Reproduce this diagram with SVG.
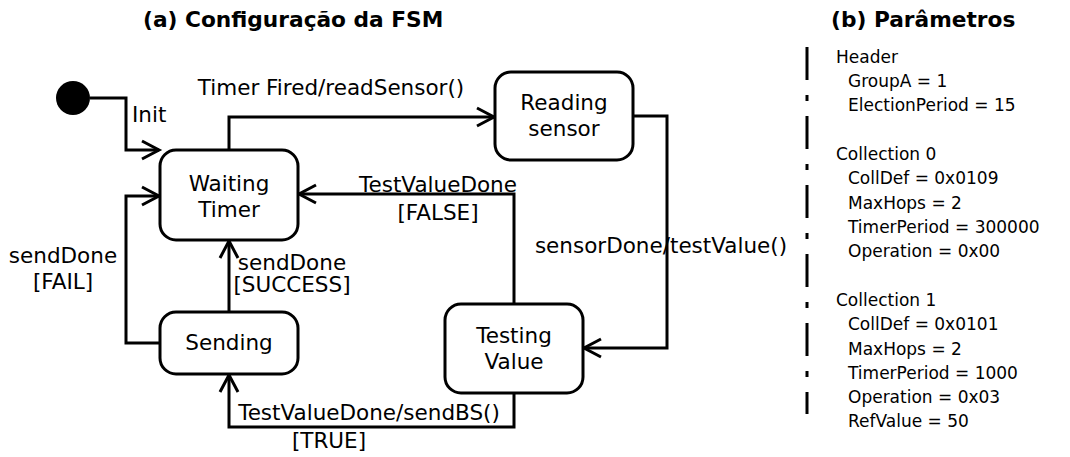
<svg xmlns="http://www.w3.org/2000/svg" width="1070" height="457" viewBox="0 0 1070 457">
<style>
.node{fill:#fff;stroke:#000;stroke-width:3}
.edge{fill:none;stroke:#000;stroke-width:3}
text{font-family:"DejaVu Sans",sans-serif;fill:#000}
.lbl{font-size:21.5px}
.ttl{font-size:21.7px;font-weight:bold}
.par{font-size:17px}
</style>
<defs>
<marker id="arr" markerUnits="userSpaceOnUse" markerWidth="30" markerHeight="30" viewBox="-20 -15 30 30" refX="0" refY="0" orient="auto" overflow="visible">
<path d="M -17 -9 L 0 0 L -17 9" fill="none" stroke="#000" stroke-width="3"/>
</marker>
</defs>
<rect width="1070" height="457" fill="#fff"/>
<text class="ttl" x="143" y="27">(a) Configuração da FSM</text>
<text class="ttl" x="831" y="27">(b) Parâmetros</text>

<g id="connectors">
<path class="edge" d="M 90 98 H 126 V 150 H 159" marker-end="url(#arr)"/>
<path class="edge" d="M 229 150 V 117 H 494" marker-end="url(#arr)"/>
<path class="edge" d="M 633 116 H 667 V 348 H 584" marker-end="url(#arr)"/>
<path class="edge" d="M 514 304 V 194 H 299" marker-end="url(#arr)"/>
<path class="edge" d="M 514 393 V 427 H 229 V 375" marker-end="url(#arr)"/>
<path class="edge" d="M 229 312 V 241" marker-end="url(#arr)"/>
<path class="edge" d="M 160 343 H 126 V 196 H 159" marker-end="url(#arr)"/>
<text class="lbl" x="132" y="122">Init</text>
<text class="lbl" x="331" y="95" text-anchor="middle">Timer Fired/readSensor()</text>
<text class="lbl" x="661" y="253" text-anchor="middle">sensorDone/testValue()</text>
<text class="lbl" x="438" y="192" text-anchor="middle">TestValueDone</text>
<text class="lbl" x="438" y="220" text-anchor="middle">[FALSE]</text>
<text class="lbl" x="369" y="420" text-anchor="middle">TestValueDone/sendBS()</text>
<text class="lbl" x="329" y="448" text-anchor="middle">[TRUE]</text>
<text class="lbl" x="292" y="270" text-anchor="middle">sendDone</text>
<text class="lbl" x="292" y="292" text-anchor="middle">[SUCCESS]</text>
<text class="lbl" x="63" y="263" text-anchor="middle">sendDone</text>
<text class="lbl" x="63" y="289" text-anchor="middle">[FAIL]</text>
</g>

<g id="init">
<circle cx="73" cy="98" r="17" fill="#000"/>
</g>
<g id="waiting-timer">
<rect class="node" x="160" y="150" width="138" height="90" rx="16"/>
<text class="lbl" x="229" y="191" text-anchor="middle">Waiting</text>
<text class="lbl" x="229" y="217" text-anchor="middle">Timer</text>
</g>
<g id="reading-sensor">
<rect class="node" x="495" y="72" width="138" height="88" rx="16"/>
<text class="lbl" x="564" y="110" text-anchor="middle">Reading</text>
<text class="lbl" x="564" y="136" text-anchor="middle">sensor</text>
</g>
<g id="testing-value">
<rect class="node" x="445" y="304" width="138" height="89" rx="16"/>
<text class="lbl" x="514" y="343" text-anchor="middle">Testing</text>
<text class="lbl" x="514" y="369" text-anchor="middle">Value</text>
</g>
<g id="sending">
<rect class="node" x="160" y="312" width="138" height="62" rx="16"/>
<text class="lbl" x="229" y="350" text-anchor="middle">Sending</text>
</g>

<g id="parameters">
<line x1="807" y1="47" x2="807" y2="414" stroke="#000" stroke-width="3" stroke-dasharray="33 15 6 15"/>
<text class="par" x="836" y="63">Header</text>
<text class="par" x="848" y="87">GroupA = 1</text>
<text class="par" x="848" y="111">ElectionPeriod = 15</text>
<text class="par" x="836" y="160">Collection 0</text>
<text class="par" x="848" y="184">CollDef = 0x0109</text>
<text class="par" x="848" y="209">MaxHops = 2</text>
<text class="par" x="848" y="233">TimerPeriod = 300000</text>
<text class="par" x="848" y="257">Operation = 0x00</text>
<text class="par" x="836" y="306">Collection 1</text>
<text class="par" x="848" y="330">CollDef = 0x0101</text>
<text class="par" x="848" y="355">MaxHops = 2</text>
<text class="par" x="848" y="379">TimerPeriod = 1000</text>
<text class="par" x="848" y="403">Operation = 0x03</text>
<text class="par" x="848" y="427">RefValue = 50</text>
</g>
</svg>
